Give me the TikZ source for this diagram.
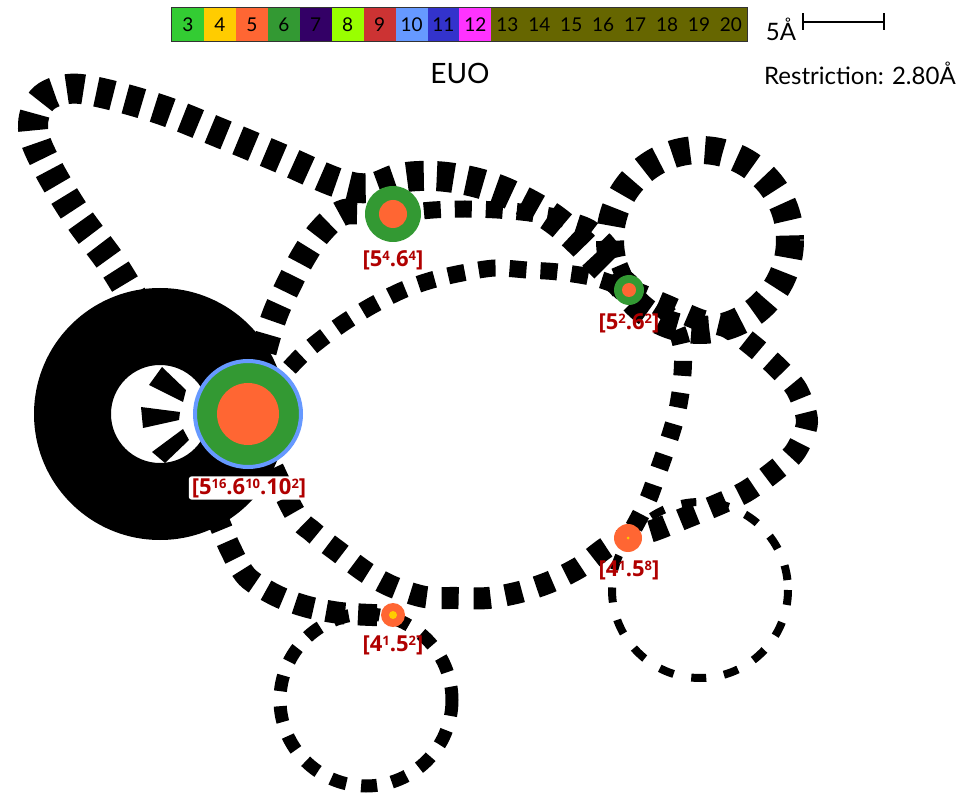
\documentclass[tikz,border=0pt]{standalone}
\usepackage{fontspec}
\setmainfont{DejaVu Sans}
\newfontfamily\thinfont{Lato}
\newfontfamily\labfont{Open Sans}
\newcommand\supd[1]{\raisebox{6pt}{\fontsize{13}{13}\selectfont #1}}
\definecolor{c3}{HTML}{33CC33}
\definecolor{c4}{HTML}{FFCC00}
\definecolor{c5}{HTML}{FF6633}
\definecolor{c6}{HTML}{339933}
\definecolor{c7}{HTML}{330066}
\definecolor{c8}{HTML}{99FF00}
\definecolor{c9}{HTML}{CC3333}
\definecolor{c10}{HTML}{6699FF}
\definecolor{c11}{HTML}{3333CC}
\definecolor{c12}{HTML}{FF33FF}
\definecolor{c13}{HTML}{666600}
\definecolor{labred}{HTML}{B00000}
\begin{document}
\begin{tikzpicture}[x=1pt,y=-1pt,
  cell/.style={minimum width=31.94pt, minimum height=33pt, inner sep=0pt, text=black, font=\thinfont\fontsize{19}{20}\selectfont},
  wA/.style={line width=30pt, dash pattern=on 17pt off 13pt},
  wB/.style={line width=26pt, dash pattern=on 18pt off 14pt},
  wC/.style={line width=17pt, dash pattern=on 17pt off 14pt},
  wD/.style={line width=28pt, dash pattern=on 18pt off 15pt},
  wE/.style={line width=22pt, dash pattern=on 17pt off 15pt},
  wF/.style={line width=18pt, dash pattern=on 15pt off 17pt},
  wG/.style={line width=22pt, dash pattern=on 19pt off 13pt},
  wH/.style={line width=13pt, dash pattern=on 16pt off 15pt},
  wI/.style={line width=8pt, dash pattern=on 15pt off 18pt},
  lab/.style={text=labred, font=\labfont\bfseries\fontsize{22}{23}\selectfont, inner sep=1pt},
  disc/.style={circle, inner sep=0pt}
]
\useasboundingbox (0,0) rectangle (970,794);
\fill[white] (0,0) rectangle (970,794);

% colour bar
\foreach \n/\c [count=\i from 0] in {3/c3,4/c4,5/c5,6/c6,7/c7,8/c8,9/c9,10/c10,11/c11,12/c12,13/c13,14/c13,15/c13,16/c13,17/c13,18/c13,19/c13,20/c13}{
  \node[cell, fill=\c] (b\n) at ({172+31.94*\i+15.97},24.5) {\n};
}
\draw[line width=1pt, black!80] (b3.north west) rectangle (b20.south east);

% scale bar
\node[font=\thinfont\fontsize{24}{26}\selectfont, inner sep=0pt] (five) at (781,29) {5Å};
\coordinate (sbL) at (803,22);
\coordinate (sbR) at (884,22);
\draw[line width=1.3pt] (sbL) -- (sbR);
\draw[line width=1.3pt] ([yshift=-8]sbL) -- ([yshift=9]sbL);
\draw[line width=1.3pt] ([yshift=-8]sbR) -- ([yshift=9]sbR);

\node[font=\thinfont\fontsize{28}{30}\selectfont, inner sep=0pt] (title) at (460,73) {EUO};
\node[font=\thinfont\fontsize{24}{26}\selectfont, inner sep=0pt, anchor=west] (restr) at (764,73) {Restriction: 2.80Å};

% key points
\coordinate (ring) at (160,414);
\coordinate (n1) at (248,414);
\coordinate (n2) at (393,214);
\coordinate (n3) at (629,290);
\coordinate (n4) at (628,538);
\coordinate (n5) at (393,615);
\coordinate (k4) at (700,240);
\coordinate (k6) at (700,590);
\coordinate (k7) at (366,700);

% black ring
\fill[black, even odd rule] (ring) circle[radius=126] (ring) circle[radius=49];
\fill[black] (149,385) -- (162,367) -- (186,390) -- (183,402) -- cycle;
\fill[black] (141,407) -- (180,412) -- (179,420) -- (143,428) -- cycle;
\fill[black] (152,452) -- (183,429) -- (189,440) -- (165,463) -- cycle;

% loops
\draw[wD] (k4) circle[radius=90];
\draw[wI] (k6) circle[radius=88];
\draw[wH] (k7) circle[radius=86];

% edges
\draw[wA] plot[smooth, tension=0.6] coordinates {(140,310) (113,265) (75,213) (45,162) (33,128) (42,100) (68,89) (102,93) (162,110) (220,133) (280,158) (338,183) (370,188) (400,178) (433,176) (465,180) (497,189) (527,203) (555,220) (580,242) (605,268) (n3)};
\draw[wB] plot[smooth] coordinates {(n1) (266,343) (276,312) (289,284) (303,257) (320,232) (345,212) (n2)};
\draw[wC] plot[smooth] coordinates {(n1) (297,360) (320,340) (345,322) (373,305) (403,290) (432,280) (462,273) (495,268) (527,270) (558,272) (595,278) (n3)};
\draw[wC] plot[smooth] coordinates {(n2) (433,210) (465,209) (497,210) (530,213) (560,218) (590,228) (612,250) (n3)};
\draw[wE] plot[smooth] coordinates {(n3) (665,305) (700,320) (727,327) (752,345) (777,367) (797,390) (807,422) (795,452) (772,473) (745,492) (717,505) (685,518) (655,530) (n4) (607,547) (580,567) (550,582) (520,592) (488,598) (457,598) (425,597) (393,587) (367,573) (340,553) (313,532) (293,510) (n1)};
\draw[wF] plot[smooth] coordinates {(n3) (668,314) (682,347) (682,380) (677,412) (668,443) (658,472) (647,502) (n4)};
\draw[wG] plot[smooth] coordinates {(215,512) (230,548) (247,577) (277,596) (308,607) (340,613) (372,615) (n5)};

% nodes
\node[disc, fill=c6, draw=c10, line width=4pt, minimum size=106pt] (n1g) at (n1) {};
\node[disc, fill=c5, minimum size=62pt] (n1o) at (n1) {};
\node[disc, fill=c6, minimum size=56pt] (n2g) at (n2) {};
\node[disc, fill=c5, minimum size=28pt] (n2o) at (n2) {};
\node[disc, fill=c6, minimum size=30pt] (n3g) at (n3) {};
\node[disc, fill=c5, minimum size=14pt] (n3o) at (n3) {};
\node[disc, fill=c5, minimum size=28pt] (n4o) at (n4) {};
\node[disc, fill=c4, minimum size=3pt] (n4y) at (n4) {};
\node[disc, fill=c5, minimum size=24pt] (n5o) at (n5) {};
\node[disc, fill=c4, minimum size=8pt] (n5y) at (n5) {};

% labels
\node[lab, fill=white, rounded corners=3pt, inner xsep=3pt, inner ysep=2pt] (l1) at (249,488) {[5\supd{16}.6\supd{10}.10\supd{2}]};
\node[lab] (l2) at (393,260) {[5\supd{4}.6\supd{4}]};
\node[lab] (l3) at (629,323) {[5\supd{2}.6\supd{2}]};
\node[lab] (l4) at (629,570) {[4\supd{1}.5\supd{8}]};
\node[lab] (l5) at (393,645) {[4\supd{1}.5\supd{2}]};
\end{tikzpicture}
\end{document}
